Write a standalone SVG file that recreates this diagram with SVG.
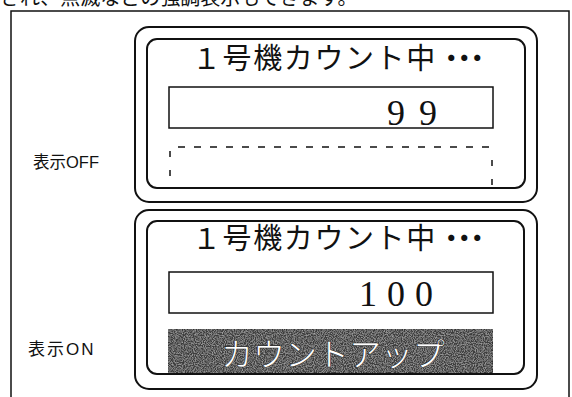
<svg xmlns="http://www.w3.org/2000/svg" width="572" height="397" viewBox="0 0 572 397">
<style>
.frame{fill:none;stroke:#111;stroke-width:1.5}
.panel{fill:none;stroke:#111;stroke-width:2}
.box{fill:#fff;stroke:#111;stroke-width:1.5}
.dash{fill:none;stroke:#111;stroke-width:1.5;stroke-dasharray:7 9}
.title{font-family:"Noto Sans CJK JP",sans-serif;font-size:29px;fill:#111;letter-spacing:1.6px}
.dots{letter-spacing:-16px}
.num{font-family:"Liberation Serif",serif;font-size:36px;fill:#111}
.label{font-family:"Liberation Sans","Noto Sans CJK JP",sans-serif;font-size:16.5px;fill:#111}
.top{font-family:"Noto Sans CJK JP",sans-serif;font-size:20px;fill:#111}
</style>
<defs>
<filter id="grain" x="0" y="0" width="100%" height="100%">
<feTurbulence type="fractalNoise" baseFrequency="0.9" numOctaves="2" seed="3" result="n"/>
<feColorMatrix in="n" type="matrix" values="0 0 0 0 0.6  0 0 0 0 0.6  0 0 0 0 0.6  0 0 0 1.2 -0.45" result="g"/>
<feComposite in="g" in2="SourceGraphic" operator="in" result="gi"/>
<feMerge><feMergeNode in="SourceGraphic"/><feMergeNode in="gi"/></feMerge>
</filter>
</defs>
<rect width="572" height="397" fill="#fff"/>
<text class="top" x="0" y="5">され、点滅などの強調表示もできます。</text>
<g id="frame">
<path class="frame" d="M11,397 V11 H569 V397"/>
</g>
<g id="label-off"><text class="label" x="33" y="168">表示OFF</text></g>
<g id="label-on"><text class="label" x="28" y="355" style="font-size:17px;letter-spacing:2px">表示ON</text></g>
<g id="panel-off">
<rect class="panel" x="135" y="27" width="402" height="175" rx="14"/>
<rect class="panel" x="147" y="39" width="378" height="149" rx="10"/>
<text class="title" x="192" y="69">１号機カウント中<tspan class="dots">・・・</tspan></text>
<rect class="box" x="169" y="87" width="324" height="41"/>
<text class="num" x="387" y="125" style="letter-spacing:14px">99</text>
<line class="dash" x1="178" y1="147" x2="490" y2="147"/>
<line class="dash" x1="170" y1="151" x2="170" y2="188" style="stroke-dasharray:6 13"/>
<line class="dash" x1="492" y1="160" x2="492" y2="188" style="stroke-dasharray:6 13"/>
</g>
<g id="panel-on">
<rect class="panel" x="135" y="210" width="402" height="179" rx="14"/>
<rect class="panel" x="147" y="221" width="377" height="153" rx="10"/>
<text class="title" x="192" y="249">１号機カウント中<tspan class="dots">・・・</tspan></text>
<rect class="box" x="169" y="272" width="324" height="41"/>
<text class="num" x="359" y="306" style="letter-spacing:10px">100</text>
<rect x="168" y="329" width="325" height="44" fill="#3e3e3e" stroke="#222" stroke-width="1" filter="url(#grain)"/>
<text x="221" y="366" style="font-family:'Noto Sans CJK JP',sans-serif;font-size:32px;fill:#fff;stroke:#222;stroke-width:0.6">カウントアップ</text>
</g>
</svg>
